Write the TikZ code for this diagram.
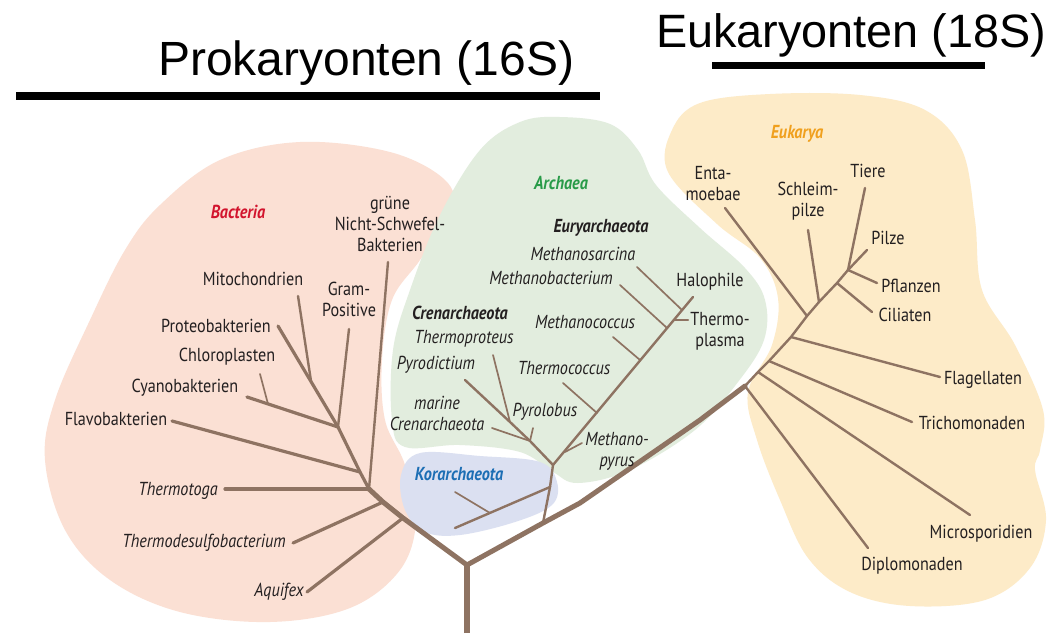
\documentclass[tikz,border=0pt]{standalone}
\usepackage{fontspec}
\setmainfont{Liberation Sans}
\newfontfamily\labfont[FakeStretch=0.86]{PT Sans}
\usetikzlibrary{calc}
\definecolor{pinkbg}{RGB}{251,224,212}
\definecolor{greenbg}{RGB}{226,237,222}
\definecolor{yellowbg}{RGB}{253,235,200}
\definecolor{lavbg}{RGB}{219,224,241}
\definecolor{branch}{RGB}{142,115,98}
\definecolor{txt}{RGB}{35,31,32}
\definecolor{bacred}{RGB}{210,20,45}
\definecolor{arcgreen}{RGB}{40,155,72}
\definecolor{korblue}{RGB}{28,110,180}
\definecolor{eukorange}{RGB}{240,160,30}
\begin{document}
\begin{tikzpicture}[x=1pt,y=-1pt,
  labn/.style={font={\labfont\fontsize{18.8}{21}\selectfont}, text=txt, inner sep=0pt, align=center},
  labi/.style={font={\labfont\itshape\fontsize{18.8}{21}\selectfont}, text=txt, inner sep=0pt, align=center},
  labbi/.style={font={\labfont\bfseries\itshape\fontsize{18.8}{21}\selectfont}, text=txt, inner sep=0pt, align=center},
  heading/.style={font={\fontsize{48}{50}\selectfont}, text=black, inner sep=0pt},
  headingb/.style={font={\fontsize{46.8}{50}\selectfont}, text=black, inner sep=0pt},
  trunkline/.style={draw=branch, line width=6pt, line cap=butt, line join=round},
  mainline/.style={draw=branch, line width=5pt, line cap=round, line join=round},
  midline/.style={draw=branch, line width=3.2pt, line cap=round, line join=round},
  thinline/.style={draw=branch, line width=2.4pt, line cap=round, line join=round},
  twig/.style={draw=branch, line width=1.7pt, line cap=round, line join=round}
]
\useasboundingbox (0,0) rectangle (1050,633);
\fill[white] (0,0) rectangle (1050,633);

% ---------- background regions ----------
\fill[pinkbg] plot[smooth cycle, tension=0.6] coordinates {
 (300,142) (390,152) (445,180) (452,212) (420,260) (392,300) (382,360)
 (385,420) (405,465) (416,520) (400,570) (350,608) (270,622) (180,612)
 (110,580) (65,530) (45,460) (55,400) (90,320) (125,250) (160,205) (220,160)};
\fill[greenbg] plot[smooth cycle, tension=0.6] coordinates {
 (560,117) (610,124) (638,150) (656,185) (700,228) (745,268) (765,300)
 (764,340) (738,382) (695,430) (630,470) (578,483) (553,472) (520,452)
 (460,445) (405,447) (392,420) (393,350) (410,290) (440,215) (480,150) (520,122)};
\fill[lavbg] plot[smooth cycle, tension=0.6] coordinates {
 (420,453) (480,456) (540,462) (557,482) (552,505) (515,522) (460,535)
 (425,532) (405,510) (401,475)};
\fill[yellowbg] plot[smooth cycle, tension=0.6] coordinates {
 (700,103) (770,94) (860,95) (925,110) (962,150) (975,220) (982,290)
 (1015,345) (1043,410) (1040,450) (1035,470) (1046,520) (1030,568)
 (985,600) (910,606) (850,592) (808,558) (780,500) (757,440) (748,392)
 (772,345) (778,298) (760,258) (717,224) (668,172) (672,130)};

% ---------- headings ----------
\node[heading, anchor=base west] (hPro) at (158,75) {Prokaryonten (16S)};
\node[headingb, anchor=base west] (hEuk) at (656,47) {Eukaryonten (18S)};
\fill[black] (16,92) rectangle (600,100);
\fill[black] (712,62) rectangle (985,69);

% ---------- tree coordinates ----------
\coordinate (Rb) at (467,633);
\coordinate (R) at (467,565);
% bacteria
\coordinate (bA) at (403,518);  \coordinate (bAq) at (307,592);
\coordinate (bT) at (383,502);  \coordinate (bTd) at (293,543);
\coordinate (b0) at (369,489);  \coordinate (bThm) at (225,489);
\coordinate (bG) at (388,262);
\coordinate (bF) at (360,472);  \coordinate (bFe) at (172,421);
\coordinate (b5) at (338,427);
\coordinate (bGP) at (349,329); \coordinate (bCy) at (247,397);
\coordinate (bPr) at (278,326);
\coordinate (bMj) at (311,381); \coordinate (bMi) at (298,296);
\coordinate (bCj) at (268,404); \coordinate (bCh) at (260,374);
% right main line
\coordinate (aK) at (543,523);
\coordinate (r1) at (580,503);
\coordinate (r2) at (700,420);
\coordinate (eD) at (745,386);
\coordinate (eM) at (758,372);
\coordinate (eTr) at (769,361);
\coordinate (eF) at (791,337);
\coordinate (eE) at (807,316);
\coordinate (eS) at (819,302);
\coordinate (eC) at (837,283);
\coordinate (eTop) at (848,270);
% archaea
\coordinate (aA) at (553,465);
\coordinate (aKj) at (550,487); \coordinate (aKe) at (455,528);
\coordinate (aKt) at (455,492); \coordinate (aKtj) at (490,513);
\coordinate (c1) at (530,441);  \coordinate (c2) at (510,422);
\coordinate (cPy) at (465,380); \coordinate (cTp) at (493,355);
\coordinate (cMa) at (492,428); \coordinate (cPl) at (533,428);
\coordinate (eH) at (693,297);
\coordinate (eMp1) at (565,452); \coordinate (eMp2) at (582,443);
\coordinate (eTc1) at (597,413); \coordinate (eTc2) at (563,383);
\coordinate (eMc1) at (640,360); \coordinate (eMc2) at (613,337);
\coordinate (eMb1) at (667,328); \coordinate (eMb2) at (620,285);
\coordinate (eMs1) at (682,310); \coordinate (eMs2) at (637,267);
\coordinate (eTp1) at (675,320); \coordinate (eTp2) at (688,320);
% eukarya ends
\coordinate (eDe) at (868,548);
\coordinate (eMe) at (970,515);
\coordinate (eTre) at (912,422);
\coordinate (eFe) at (940,377);
\coordinate (eEe) at (725,208);
\coordinate (eSe) at (808,230);
\coordinate (eCe) at (872,312);
\coordinate (ePf) at (877,283);
\coordinate (ePi) at (867,250);
\coordinate (eTi) at (865,188);

% ---------- branches ----------
\draw[trunkline] (Rb) -- (R);
\draw[mainline] (R) -- (bA) -- (bT) -- (b0);
\draw[mainline] (R) -- (aK) -- (r1) -- (r2) -- (eD);
\draw[thinline] (eD) -- (eM) -- (eTr) -- (eF) -- (eE) -- (eS) -- (eC) -- (eTop);
% bacteria
\draw[midline] (b0) -- (bF) -- (b5);
\draw[midline] (bA) -- (bAq);
\draw[midline] (bT) -- (bTd);
\draw[midline] (b0) -- (bThm);
\draw[thinline] (b0) -- (bG);
\draw[midline] (bF) -- (bFe);
\draw[thinline] (b5) -- (bGP);
\draw[midline] (b5) -- (bCy);
\draw[midline] (b5) -- (bPr);
\draw[thinline] (bMj) -- (bMi);
\draw[twig] (bCj) -- (bCh);
% archaea
\draw[thinline] (aK) -- (aKj) -- (aA);
\draw[thinline] (aKj) -- (aKe);
\draw[twig] (aKtj) -- (aKt);
\draw[thinline] (aA) -- (c1) -- (c2) -- (cPy);
\draw[twig] (c2) -- (cTp);
\draw[twig] (c1) -- (cMa);
\draw[twig] (c1) -- (cPl);
\draw[thinline] (aA) -- (eH);
\draw[twig] (eMp1) -- (eMp2);
\draw[twig] (eTc1) -- (eTc2);
\draw[twig] (eMc1) -- (eMc2);
\draw[twig] (eMb1) -- (eMb2);
\draw[twig] (eMs1) -- (eMs2);
\draw[thinline] (eTp1) -- (eTp2);
% eukarya
\draw[thinline] (eD) -- (eDe);
\draw[thinline] (eM) -- (eMe);
\draw[thinline] (eTr) -- (eTre);
\draw[thinline] (eF) -- (eFe);
\draw[thinline] (eE) -- (eEe);
\draw[thinline] (eS) -- (eSe);
\draw[thinline] (eC) -- (eCe);
\draw[thinline] (eTop) -- (ePf);
\draw[thinline] (eTop) -- (ePi);
\draw[thinline] (eTop) -- (eTi);

% ---------- labels: Bacteria ----------
\node[labbi, text=bacred] (tBac) at (238,212) {Bacteria};
\node[labn] (tGr) at (390,224) {grüne\\Nicht-Schwefel-\\Bakterien};
\node[labn] (tMi) at (253,279) {Mitochondrien};
\node[labn] (tGP) at (349,299) {Gram-\\Positive};
\node[labn] (tPr) at (216,326) {Proteobakterien};
\node[labn] (tCh) at (227,357) {Chloroplasten};
\node[labn] (tCy) at (185,388) {Cyanobakterien};
\node[labn] (tFl) at (116,419) {Flavobakterien};
\node[labi] (tTh) at (178,491) {Thermotoga};
\node[labi] (tTd) at (204,543) {Thermodesulfobacterium};
\node[labi] (tAq) at (279,592) {Aquifex};
% ---------- labels: Archaea ----------
\node[labbi, text=arcgreen] (tArc) at (561,183) {Archaea};
\node[labbi] (tEury) at (601,228) {Euryarchaeota};
\node[labi] (tMs) at (583,254) {Methanosarcina};
\node[labi] (tMb) at (551,278) {Methanobacterium};
\node[labn] (tHa) at (710,282) {Halophile};
\node[labbi] (tCren) at (460,313) {Crenarchaeota};
\node[labi] (tTp) at (464,339) {Thermoproteus};
\node[labi] (tMc) at (585,322) {Methanococcus};
\node[labn] (tTpl) at (720,331) {Thermo-\\plasma};
\node[labi] (tPy) at (436,365) {Pyrodictium};
\node[labi] (tTc) at (564,368) {Thermococcus};
\node[labi] (tMa) at (437,413) {marine\\Crenarchaeota};
\node[labi] (tPl) at (545,412) {Pyrolobus};
\node[labi] (tMp) at (617,451) {Methano-\\pyrus};
\node[labbi, text=korblue] (tKor) at (459,474) {Korarchaeota};
% ---------- labels: Eukarya ----------
\node[labbi, text=eukorange] (tEuk) at (797,134) {Eukarya};
\node[labn] (tEn) at (713,184) {Enta-\\moebae};
\node[labn] (tSc) at (808,201) {Schleim-\\pilze};
\node[labn] (tTi) at (868,171) {Tiere};
\node[labn] (tPi) at (888,238) {Pilze};
\node[labn] (tPf) at (911,286) {Pflanzen};
\node[labn] (tCi) at (905,315) {Ciliaten};
\node[labn] (tFg) at (983,380) {Flagellaten};
\node[labn] (tTr) at (972,423) {Trichomonaden};
\node[labn] (tMsp) at (981,534) {Microsporidien};
\node[labn] (tDi) at (912,566) {Diplomonaden};
\end{tikzpicture}
\end{document}
